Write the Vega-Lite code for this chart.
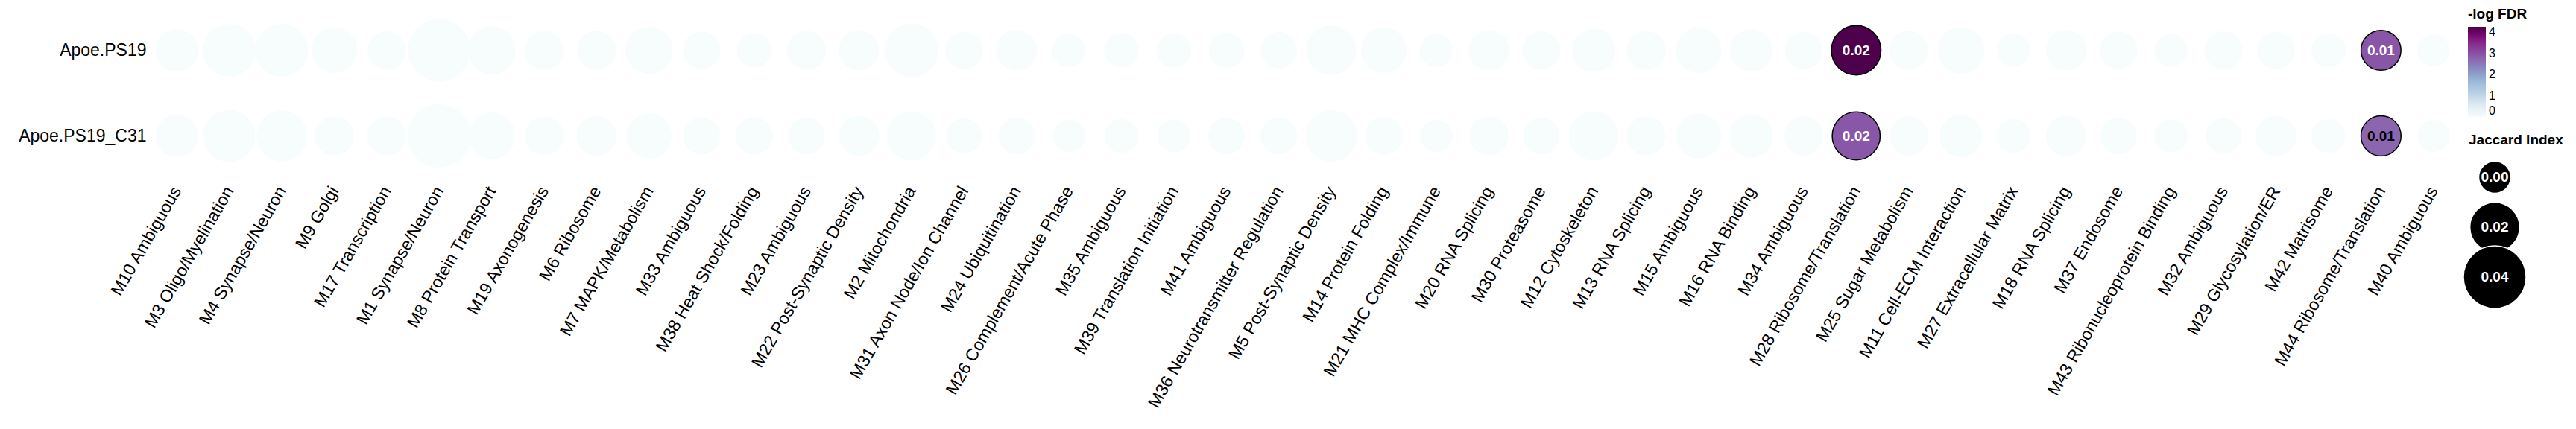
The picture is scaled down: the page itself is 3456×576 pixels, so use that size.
{
  "$schema": "https://vega.github.io/schema/vega-lite/v6.json",
  "background": "white",
  "padding": {"left": 24, "top": 10, "right": 0, "bottom": 0},
  "spacing": 2,
  "config": {
    "font": "Liberation Sans",
    "view": {"stroke": null},
    "axis": {"grid": false, "domain": false, "ticks": false, "labelColor": "black", "labelFont": "Liberation Sans"},
    "legend": {"labelFont": "Liberation Sans", "titleFont": "Liberation Sans"}
  },
  "hconcat": [
    {
      "width": 3098,
      "height": 230,
      "data": {
        "values": [
          {"group": "Apoe.PS19", "module": "M10 Ambiguous", "jaccard": 0.0110, "fdr": 0},
          {"group": "Apoe.PS19", "module": "M3 Oligo/Myelination", "jaccard": 0.0242, "fdr": 0},
          {"group": "Apoe.PS19", "module": "M4 Synapse/Neuron", "jaccard": 0.0245, "fdr": 0},
          {"group": "Apoe.PS19", "module": "M9 Golgi", "jaccard": 0.0144, "fdr": 0},
          {"group": "Apoe.PS19", "module": "M17 Transcription", "jaccard": 0.0060, "fdr": 0},
          {"group": "Apoe.PS19", "module": "M1 Synapse/Neuron", "jaccard": 0.0400, "fdr": 0},
          {"group": "Apoe.PS19", "module": "M8 Protein  Transport", "jaccard": 0.0176, "fdr": 0},
          {"group": "Apoe.PS19", "module": "M19 Axonogenesis", "jaccard": 0.0066, "fdr": 0},
          {"group": "Apoe.PS19", "module": "M6 Ribosome", "jaccard": 0.0071, "fdr": 0},
          {"group": "Apoe.PS19", "module": "M7 MAPK/Metabolism", "jaccard": 0.0168, "fdr": 0},
          {"group": "Apoe.PS19", "module": "M33 Ambiguous", "jaccard": 0.0050, "fdr": 0},
          {"group": "Apoe.PS19", "module": "M38 Heat Shock/Folding", "jaccard": 0.0021, "fdr": 0},
          {"group": "Apoe.PS19", "module": "M23 Ambiguous", "jaccard": 0.0066, "fdr": 0},
          {"group": "Apoe.PS19", "module": "M22 Post-Synaptic Density", "jaccard": 0.0082, "fdr": 0},
          {"group": "Apoe.PS19", "module": "M2 Mitochondria", "jaccard": 0.0253, "fdr": 0},
          {"group": "Apoe.PS19", "module": "M31 Axon Node/Ion Channel", "jaccard": 0.0050, "fdr": 0},
          {"group": "Apoe.PS19", "module": "M24 Ubiquitination", "jaccard": 0.0088, "fdr": 0},
          {"group": "Apoe.PS19", "module": "M26 Complement/Acute Phase", "jaccard": 0.0010, "fdr": 0},
          {"group": "Apoe.PS19", "module": "M35 Ambiguous", "jaccard": 0.0024, "fdr": 0},
          {"group": "Apoe.PS19", "module": "M39 Translation Initiation", "jaccard": 0.0021, "fdr": 0},
          {"group": "Apoe.PS19", "module": "M41 Ambiguous", "jaccard": 0.0030, "fdr": 0},
          {"group": "Apoe.PS19", "module": "M36 Neurotransmitter Regulation", "jaccard": 0.0042, "fdr": 0},
          {"group": "Apoe.PS19", "module": "M5 Post-Synaptic Density", "jaccard": 0.0200, "fdr": 0},
          {"group": "Apoe.PS19", "module": "M14 Protein Folding", "jaccard": 0.0144, "fdr": 0},
          {"group": "Apoe.PS19", "module": "M21 MHC Complex/Immune", "jaccard": 0.0005, "fdr": 0},
          {"group": "Apoe.PS19", "module": "M20 RNA Splicing", "jaccard": 0.0084, "fdr": 0},
          {"group": "Apoe.PS19", "module": "M30 Proteasome", "jaccard": 0.0059, "fdr": 0},
          {"group": "Apoe.PS19", "module": "M12 Cytoskeleton", "jaccard": 0.0118, "fdr": 0},
          {"group": "Apoe.PS19", "module": "M13 RNA Splicing", "jaccard": 0.0067, "fdr": 0},
          {"group": "Apoe.PS19", "module": "M15 Ambiguous", "jaccard": 0.0144, "fdr": 0},
          {"group": "Apoe.PS19", "module": "M16 RNA Binding", "jaccard": 0.0105, "fdr": 0},
          {"group": "Apoe.PS19", "module": "M34 Ambiguous", "jaccard": 0.0050, "fdr": 0},
          {"group": "Apoe.PS19", "module": "M28 Ribosome/Translation", "jaccard": 0.0198, "fdr": 4.25},
          {"group": "Apoe.PS19", "module": "M25 Sugar Metabolism", "jaccard": 0.0068, "fdr": 0},
          {"group": "Apoe.PS19", "module": "M11 Cell-ECM Interaction", "jaccard": 0.0160, "fdr": 0},
          {"group": "Apoe.PS19", "module": "M27 Extracellular Matrix", "jaccard": 0.0009, "fdr": 0},
          {"group": "Apoe.PS19", "module": "M18 RNA  Splicing", "jaccard": 0.0082, "fdr": 0},
          {"group": "Apoe.PS19", "module": "M37 Endosome", "jaccard": 0.0052, "fdr": 0},
          {"group": "Apoe.PS19", "module": "M43 Ribonucleoprotein Binding", "jaccard": 0.0007, "fdr": 0},
          {"group": "Apoe.PS19", "module": "M32 Ambiguous", "jaccard": 0.0058, "fdr": 0},
          {"group": "Apoe.PS19", "module": "M29 Glycosylation/ER", "jaccard": 0.0048, "fdr": 0},
          {"group": "Apoe.PS19", "module": "M42 Matrisome", "jaccard": 0.0021, "fdr": 0},
          {"group": "Apoe.PS19", "module": "M44 Ribosome/Translation", "jaccard": 0.0078, "fdr": 2.95},
          {"group": "Apoe.PS19", "module": "M40 Ambiguous", "jaccard": 0.0000, "fdr": 0},
          {"group": "Apoe.PS19_C31", "module": "M10 Ambiguous", "jaccard": 0.0105, "fdr": 0},
          {"group": "Apoe.PS19_C31", "module": "M3 Oligo/Myelination", "jaccard": 0.0231, "fdr": 0},
          {"group": "Apoe.PS19_C31", "module": "M4 Synapse/Neuron", "jaccard": 0.0216, "fdr": 0},
          {"group": "Apoe.PS19_C31", "module": "M9 Golgi", "jaccard": 0.0066, "fdr": 0},
          {"group": "Apoe.PS19_C31", "module": "M17 Transcription", "jaccard": 0.0066, "fdr": 0},
          {"group": "Apoe.PS19_C31", "module": "M1 Synapse/Neuron", "jaccard": 0.0413, "fdr": 0},
          {"group": "Apoe.PS19_C31", "module": "M8 Protein  Transport", "jaccard": 0.0160, "fdr": 0},
          {"group": "Apoe.PS19_C31", "module": "M19 Axonogenesis", "jaccard": 0.0066, "fdr": 0},
          {"group": "Apoe.PS19_C31", "module": "M6 Ribosome", "jaccard": 0.0082, "fdr": 0},
          {"group": "Apoe.PS19_C31", "module": "M7 MAPK/Metabolism", "jaccard": 0.0141, "fdr": 0},
          {"group": "Apoe.PS19_C31", "module": "M33 Ambiguous", "jaccard": 0.0050, "fdr": 0},
          {"group": "Apoe.PS19_C31", "module": "M38 Heat Shock/Folding", "jaccard": 0.0050, "fdr": 0},
          {"group": "Apoe.PS19_C31", "module": "M23 Ambiguous", "jaccard": 0.0045, "fdr": 0},
          {"group": "Apoe.PS19_C31", "module": "M22 Post-Synaptic Density", "jaccard": 0.0082, "fdr": 0},
          {"group": "Apoe.PS19_C31", "module": "M2 Mitochondria", "jaccard": 0.0190, "fdr": 0},
          {"group": "Apoe.PS19_C31", "module": "M31 Axon Node/Ion Channel", "jaccard": 0.0033, "fdr": 0},
          {"group": "Apoe.PS19_C31", "module": "M24 Ubiquitination", "jaccard": 0.0042, "fdr": 0},
          {"group": "Apoe.PS19_C31", "module": "M26 Complement/Acute Phase", "jaccard": 0.0003, "fdr": 0},
          {"group": "Apoe.PS19_C31", "module": "M35 Ambiguous", "jaccard": 0.0021, "fdr": 0},
          {"group": "Apoe.PS19_C31", "module": "M39 Translation Initiation", "jaccard": 0.0007, "fdr": 0},
          {"group": "Apoe.PS19_C31", "module": "M41 Ambiguous", "jaccard": 0.0039, "fdr": 0},
          {"group": "Apoe.PS19_C31", "module": "M36 Neurotransmitter Regulation", "jaccard": 0.0045, "fdr": 0},
          {"group": "Apoe.PS19_C31", "module": "M5 Post-Synaptic Density", "jaccard": 0.0224, "fdr": 0},
          {"group": "Apoe.PS19_C31", "module": "M14 Protein Folding", "jaccard": 0.0058, "fdr": 0},
          {"group": "Apoe.PS19_C31", "module": "M21 MHC Complex/Immune", "jaccard": 0.0001, "fdr": 0},
          {"group": "Apoe.PS19_C31", "module": "M20 RNA Splicing", "jaccard": 0.0071, "fdr": 0},
          {"group": "Apoe.PS19_C31", "module": "M30 Proteasome", "jaccard": 0.0039, "fdr": 0},
          {"group": "Apoe.PS19_C31", "module": "M12 Cytoskeleton", "jaccard": 0.0193, "fdr": 0},
          {"group": "Apoe.PS19_C31", "module": "M13 RNA Splicing", "jaccard": 0.0068, "fdr": 0},
          {"group": "Apoe.PS19_C31", "module": "M15 Ambiguous", "jaccard": 0.0141, "fdr": 0},
          {"group": "Apoe.PS19_C31", "module": "M16 RNA Binding", "jaccard": 0.0121, "fdr": 0},
          {"group": "Apoe.PS19_C31", "module": "M34 Ambiguous", "jaccard": 0.0068, "fdr": 0},
          {"group": "Apoe.PS19_C31", "module": "M28 Ribosome/Translation", "jaccard": 0.0176, "fdr": 2.93},
          {"group": "Apoe.PS19_C31", "module": "M25 Sugar Metabolism", "jaccard": 0.0068, "fdr": 0},
          {"group": "Apoe.PS19_C31", "module": "M11 Cell-ECM Interaction", "jaccard": 0.0110, "fdr": 0},
          {"group": "Apoe.PS19_C31", "module": "M27 Extracellular Matrix", "jaccard": 0.0018, "fdr": 0},
          {"group": "Apoe.PS19_C31", "module": "M18 RNA  Splicing", "jaccard": 0.0084, "fdr": 0},
          {"group": "Apoe.PS19_C31", "module": "M37 Endosome", "jaccard": 0.0042, "fdr": 0},
          {"group": "Apoe.PS19_C31", "module": "M43 Ribonucleoprotein Binding", "jaccard": 0.0010, "fdr": 0},
          {"group": "Apoe.PS19_C31", "module": "M32 Ambiguous", "jaccard": 0.0031, "fdr": 0},
          {"group": "Apoe.PS19_C31", "module": "M29 Glycosylation/ER", "jaccard": 0.0084, "fdr": 0},
          {"group": "Apoe.PS19_C31", "module": "M42 Matrisome", "jaccard": 0.0018, "fdr": 0},
          {"group": "Apoe.PS19_C31", "module": "M44 Ribosome/Translation", "jaccard": 0.0080, "fdr": 2.72},
          {"group": "Apoe.PS19_C31", "module": "M40 Ambiguous", "jaccard": 0.0000, "fdr": 0}
        ]
      },
      "encoding": {
        "x": {
          "field": "module",
          "type": "nominal",
          "sort": null,
          "scale": {"type": "point", "padding": 0.5},
          "axis": {
            "title": null,
            "labelAngle": -60,
            "labelAlign": "right",
            "labelBaseline": "middle",
            "labelFontSize": 23,
            "labelPadding": 12,
            "labelLimit": 600,
            "labelOverlap": false
          }
        },
        "y": {
          "field": "group",
          "type": "nominal",
          "sort": null,
          "scale": {"type": "point", "padding": 0.5},
          "axis": {"title": null, "labelFontSize": 23, "labelPadding": 6}
        }
      },
      "layer": [
        {
          "mark": {"type": "circle", "opacity": 1, "strokeWidth": 1.5},
          "encoding": {
            "size": {
              "field": "jaccard",
              "type": "quantitative",
              "scale": {"domain": [0, 0.04], "range": [1849, 7056]},
              "legend": null
            },
            "color": {
              "field": "fdr",
              "type": "quantitative",
              "scale": {
                "domain": [0, 4.25],
                "range": ["#f7fcfd", "#e0ecf4", "#bfd3e6", "#9ebcda", "#8c96c6", "#8c6bb1", "#88419d", "#810f7c", "#4d004b"]
              },
              "legend": {
                "title": "-log FDR",
                "orient": "none",
                "legendX": 3109,
                "legendY": 0,
                "direction": "vertical",
                "gradientLength": 121,
                "gradientThickness": 24,
                "gradientStrokeWidth": 0,
                "values": [0, 1, 2, 3, 4],
                "labelFontSize": 16,
                "labelColor": "black",
                "labelOffset": 4,
                "labelOverlap": false,
                "titleFontSize": 19,
                "titleFontWeight": "bold",
                "titleColor": "black",
                "titlePadding": 7
              }
            },
            "stroke": {
              "condition": {"test": "datum.fdr > 1.3", "value": "black"},
              "value": "transparent"
            }
          }
        },
        {
          "transform": [{"filter": "datum.fdr > 1.3"}],
          "mark": {"type": "text", "fontWeight": "bold", "fontSize": 19},
          "encoding": {
            "text": {"field": "jaccard", "type": "quantitative", "format": ".2f"},
            "color": {
              "condition": {"test": "datum.fdr > 2.8", "value": "white"},
              "value": "black"
            }
          }
        }
      ]
    },
    {
      "width": 70,
      "height": 400,
      "data": {"values": [{"jaccard": 0}, {"jaccard": 0.02}, {"jaccard": 0.04}]},
      "title": {
        "text": "Jaccard Index",
        "anchor": "start",
        "frame": "group",
        "fontSize": 19,
        "fontWeight": "bold",
        "color": "black",
        "baseline": "alphabetic",
        "offset": -203
      },
      "encoding": {
        "y": {
          "field": "jaccard",
          "type": "ordinal",
          "scale": {"type": "point", "range": [228, 362], "padding": 0},
          "axis": null
        }
      },
      "layer": [
        {
          "mark": {"type": "circle", "opacity": 1, "fill": "black", "stroke": "white", "strokeWidth": 1.5},
          "encoding": {
            "size": {
              "field": "jaccard",
              "type": "quantitative",
              "scale": {"domain": [0, 0.04], "range": [1849, 7056]},
              "legend": null
            }
          }
        },
        {
          "mark": {"type": "text", "color": "white", "fontWeight": "bold", "fontSize": 19},
          "encoding": {
            "text": {"field": "jaccard", "type": "quantitative", "format": ".2f"}
          }
        }
      ]
    }
  ]
}
